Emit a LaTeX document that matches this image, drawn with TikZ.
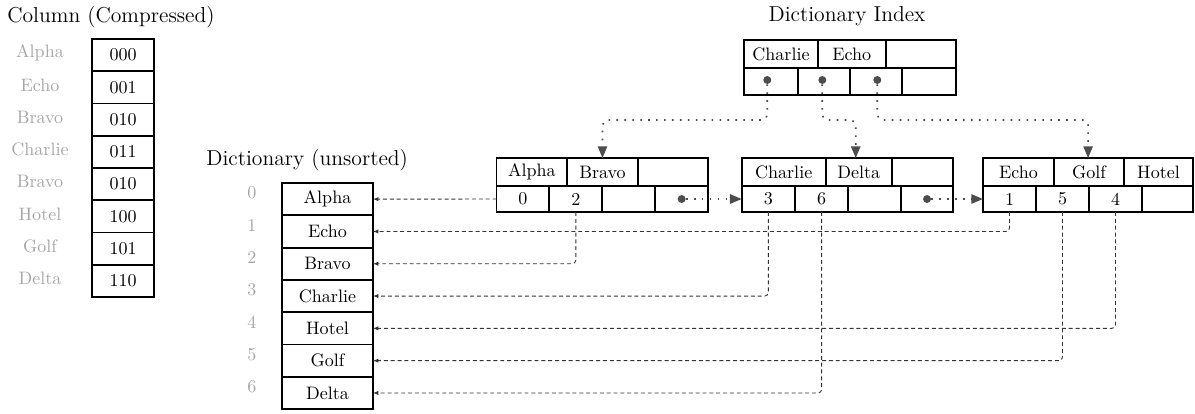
\documentclass[tikz,border=0pt]{standalone}
\usetikzlibrary{arrows.meta}
\newcommand{\cellnode}[6]{\node[cellbox, minimum width={((#3)-(#2))*0.555pt}, minimum height={((#5)-(#4))*0.555pt}] (#1) at ({((#2)+(#3))/2},{((#4)+(#5))/2}) {#6};}
\begin{document}
\begin{tikzpicture}[x=0.555pt,y=-0.555pt,
  cellbox/.style={draw, line width=1pt, inner sep=0pt, outer sep=0pt},
  faint/.style={text=black!35, inner sep=0pt},
  title/.style={font=\large, inner sep=0pt},
  dot/.style={circle, fill=black!70, inner sep=0pt, minimum size=4.4pt},
  ptr/.style={draw=black!70, line width=0.9pt, dash pattern=on 0.9pt off 3.5pt, rounded corners=3pt, -{Triangle[length=6.5pt,width=5.2pt]}},
  ref/.style={draw=black!80, line width=0.5pt, dash pattern=on 2.2pt off 1.6pt, rounded corners=2pt, -{Latex[length=3pt,width=2.4pt]}}
]
\useasboundingbox (0,0) rectangle (1195,413);

% titles
\node[title, anchor=base west] (tcol) at (7,22) {Column (Compressed)};
\node[title, anchor=base west] (tdict) at (206,165) {Dictionary (unsorted)};
\node[title, anchor=base] (tidx) at (847,21) {Dictionary Index};

% compressed column
\foreach \t [count=\i from 0] in {000,001,010,011,010,100,101,110} {
  \cellnode{col\i}{92}{154.3}{39+32.25*\i}{39+32.25*(\i+1)}{\t}
}
\foreach \t [count=\i from 0] in {Alpha,Echo,Bravo,Charlie,Bravo,Hotel,Golf,Delta} {
  \node[faint] (cl\i) at (40,{39+32.25*\i+13.6}) {\t};
}

% dictionary
\foreach \t [count=\i from 0] in {Alpha,Echo,Bravo,Charlie,Hotel,Golf,Delta} {
  \cellnode{dict\i}{282}{373}{183+32.3*\i}{183+32.3*(\i+1)}{\t}
  \node[faint] (di\i) at (252,{199.15+32.3*\i-6}) {\i};
}

% leaf 1
\cellnode{aTop1}{496.5}{567.3}{158}{186}{Alpha}
\cellnode{aTop2}{567.3}{637.7}{158}{186}{Bravo}
\cellnode{aTop3}{637.7}{708.3}{158}{186}{}
\cellnode{aBot1}{496.5}{549.3}{186}{212}{0}
\cellnode{aBot2}{549.3}{602.3}{186}{212}{2}
\cellnode{aBot3}{602.3}{655}{186}{212}{}
\cellnode{aBot4}{655}{708.3}{186}{212}{}

% leaf 2
\cellnode{bTop1}{741.7}{825.7}{158}{186}{Charlie}
\cellnode{bTop2}{825.7}{891.7}{158}{186}{Delta}
\cellnode{bTop3}{891.7}{953.3}{158}{186}{}
\cellnode{bBot1}{741.7}{795}{186}{212}{3}
\cellnode{bBot2}{795}{848.3}{186}{212}{6}
\cellnode{bBot3}{848.3}{900.7}{186}{212}{}
\cellnode{bBot4}{900.7}{953.3}{186}{212}{}

% leaf 3
\cellnode{cTop1}{983}{1054}{158}{186}{Echo}
\cellnode{cTop2}{1054}{1124}{158}{186}{Golf}
\cellnode{cTop3}{1124}{1193}{158}{186}{Hotel}
\cellnode{cBot1}{983}{1036}{186}{212}{1}
\cellnode{cBot2}{1036}{1089}{186}{212}{5}
\cellnode{cBot3}{1089}{1142}{186}{212}{4}
\cellnode{cBot4}{1142}{1193}{186}{212}{}

% index
\cellnode{iTop1}{744.3}{817.7}{40.3}{68.3}{Charlie}
\cellnode{iTop2}{817.7}{885.7}{40.3}{68.3}{Echo}
\cellnode{iTop3}{885.7}{955.7}{40.3}{68.3}{}
\cellnode{iBot1}{744.3}{797.7}{68.3}{95}{}
\cellnode{iBot2}{797.7}{850}{68.3}{95}{}
\cellnode{iBot3}{850}{902.3}{68.3}{95}{}
\cellnode{iBot4}{902.3}{955.7}{68.3}{95}{}

% pointer dots
\node[dot] (iDot1) at (767.3,80) {};
\node[dot] (iDot2) at (822.3,80) {};
\node[dot] (iDot3) at (877.3,80) {};
\node[dot] (aDot) at (aBot4.center) {};
\node[dot] (bDot) at (bBot4.center) {};

% bend level for index pointers
\coordinate (hl) at (0,120);
\coordinate (tA) at (aTop2.north);
\coordinate (tB) at ([xshift=-1.65pt]bTop2.north);
\coordinate (tC) at ([xshift=-0.5pt]cTop2.north);

\draw[ptr] (iDot1) |- (hl -| tA) -- (tA);
\draw[ptr] (iDot2) |- (hl -| tB) -- (tB);
\draw[ptr] (iDot3) |- (hl -| tC) -- (tC);

\draw[ptr] (aDot) -- (bBot1.west);
\draw[ptr] (bDot) -- (cBot1.west);

% references into dictionary
\draw[ref] (aBot1.west) -- (dict0.east);
\draw[ref] (aBot2.south) |- (dict2.east);
\draw[ref] (bBot1.south) |- (dict3.east);
\draw[ref] (bBot2.south) |- (dict6.east);
\draw[ref] (cBot1.south) |- (dict1.east);
\draw[ref] (cBot2.south) |- (dict5.east);
\draw[ref] (cBot3.south) |- (dict4.east);
\end{tikzpicture}
\end{document}
